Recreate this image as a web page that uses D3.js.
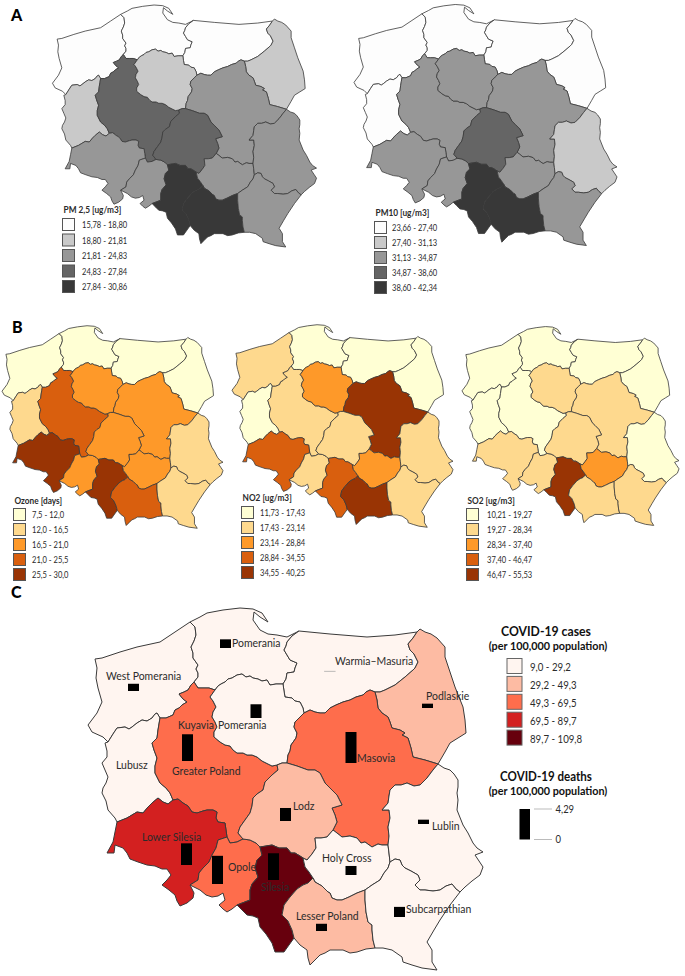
<!DOCTYPE html>
<html lang="en">
<head>
  <meta charset="UTF-8">
  <title>Air pollution and COVID-19 in Polish voivodeships</title>
  <script src="https://d3js.org/d3.v7.min.js"></script>
  <style>
    html, body { margin: 0; padding: 0; background: #fff; }
    svg { display: block; }
    text { font-family: Lato, "Open Sans", sans-serif; fill: #2b2b2b; }
  </style>
</head>
<body>
  <svg id="chart" width="685" height="976"></svg>

  <script>
    // Voivodeships, same order in every class list below
    const regions = ["West Pomerania", "Pomerania", "Warmia-Masuria", "Podlaskie", "Lubusz", "Greater Poland",
      "Kuyavia-Pomerania", "Masovia", "Lower Silesia", "Opole", "Lodz", "Silesia", "Holy Cross", "Lesser Poland",
      "Lublin", "Subcarpathian"];

    // Class (0-4) of each voivodeship on each map
    const pm25Class  = [0, 0, 0, 1, 1, 3, 1, 2, 2, 2, 3, 4, 2, 4, 2, 2];
    const pm10Class  = [0, 0, 0, 0, 0, 2, 2, 2, 2, 2, 3, 4, 2, 4, 1, 2];
    const ozoneClass = [0, 0, 0, 0, 1, 3, 2, 2, 4, 2, 2, 4, 2, 3, 1, 1];
    const no2Class   = [1, 0, 0, 0, 0, 1, 2, 4, 3, 1, 1, 3, 2, 4, 1, 1];
    const so2Class   = [0, 0, 0, 0, 0, 0, 1, 1, 1, 1, 1, 4, 2, 1, 0, 1];
    const casesClass = [0, 0, 0, 1, 0, 2, 0, 2, 3, 2, 1, 4, 0, 1, 0, 0];

    // COVID-19 deaths per 100,000
    const deaths = [1.0, 1.2, 0.05, 0.6, 0, 3.7, 1.9, 4.29, 3.0, 3.9, 1.8, 3.7, 1.25, 1.0, 0.6, 1.4];

    const pm25Labels  = ["15,78 - 18,80", "18,80 - 21,81", "21,81 - 24,83", "24,83 - 27,84", "27,84 - 30,86"];
    const pm10Labels  = ["23,66 - 27,40", "27,40 - 31,13", "31,13 - 34,87", "34,87 - 38,60", "38,60 - 42,34"];
    const ozoneLabels = ["7,5 - 12,0", "12,0 - 16,5", "16,5 - 21,0", "21,0 - 25,5", "25,5 - 30,0"];
    const no2Labels   = ["11,73 - 17,43", "17,43 - 23,14", "23,14 - 28,84", "28,84 - 34,55", "34,55 - 40,25"];
    const so2Labels   = ["10,21 - 19,27", "19,27 - 28,34", "28,34 - 37,40", "37,40 - 46,47", "46,47 - 55,53"];
    const casesLabels = ["9,0 - 29,2", "29,2 - 49,3", "49,3 - 69,5", "69,5 - 89,7", "89,7 - 109,8"];

    const greys   = ["#fdfdfd", "#c9c9c9", "#979797", "#656565", "#383838"];
    const oranges = ["#ffffd4", "#fed98e", "#fe9929", "#d95f0e", "#993404"];
    const reds    = ["#fff5f0", "#fdbba3", "#fe6d4c", "#d32020", "#67000d"];

    // Shared borders, in map units. Every voivodeship ring is stitched from these
    const arcs = {
      wpCoast: [[190,622],[175,632],[160,642],[137,647],[120,652],[102,658],[95,659],[97,668],[96,678],[98,688],[102,702],[97,713],[88,725],[92,732],[103,737],[108,742]],
      wpLub: [[108,742],[113,734],[117,728],[125,727],[129,729],[132,727],[137,723],[142,720],[147,721],[152,718],[155,714],[157,713],[160,718]],
      wpGp: [[160,718],[166,718],[173,715],[175,710],[179,708],[182,705],[187,702],[183,699],[179,694],[184,692],[188,690],[191,685],[194,682]],
      wpPom: [[194,682],[198,677],[198,673],[196,669],[198,665],[193,658],[193,653],[191,647],[194,641],[196,635],[195,627],[190,622]],
      pomCoast: [[190,622],[200,617],[207,613],[223,610],[240,608],[253,609],[262,613],[268,622],[260,617],[254,612],[253,620],[260,630],[268,634],[277,635],[287,637],[299,631]],
      pomWm: [[299,631],[292,636],[287,642],[286,646],[284,650],[287,655],[290,660],[297,663],[295,668],[294,672],[287,673],[286,679],[283,684]],
      pomKuy: [[283,684],[276,684],[270,685],[267,680],[262,681],[258,679],[253,678],[250,676],[246,677],[242,674],[237,675],[232,678],[228,679],[225,682],[221,684],[218,686],[215,690]],
      pomGp: [[215,690],[209,688],[203,688],[198,688],[196,685],[194,682]],
      kuyGp: [[215,690],[210,697],[213,701],[216,707],[213,712],[212,717],[215,722],[217,727],[214,732],[214,737],[220,742],[225,745],[230,746],[233,750],[237,753],[243,753],[247,755],[252,755],[257,757],[262,761],[268,764],[272,766],[277,765]],
      kuyWm: [[283,684],[284,691],[285,697],[292,698],[295,701],[300,702],[303,708],[304,713]],
      kuyMas: [[304,713],[300,717],[295,722],[294,727],[297,733],[296,738],[291,745],[290,751],[288,755],[287,763]],
      kuyLodz: [[287,763],[282,763],[277,765]],
      wmCoast: [[299,631],[330,634],[367,637],[395,635],[417,632]],
      wmPod: [[417,632],[413,638],[408,644],[410,650],[414,654],[418,662],[415,668],[413,670],[405,677],[395,685],[385,690],[380,692],[375,692]],
      wmMas: [[375,692],[370,690],[366,692],[363,695],[356,697],[350,700],[343,702],[336,705],[330,708],[325,713],[320,713],[315,712],[310,710],[304,713]],
      podBorder: [[417,632],[420,629],[425,632],[431,634],[437,638],[445,647],[445,657],[450,672],[455,687],[463,707],[465,720],[466,733],[458,738],[450,743],[445,752],[438,764]],
      podMas: [[438,764],[425,760],[413,757],[411,748],[408,738],[402,735],[405,733],[400,730],[392,728],[390,722],[388,717],[382,713],[378,708],[377,700],[375,692]],
      lubWest: [[108,742],[105,743],[107,751],[107,757],[102,763],[105,770],[108,777],[106,783],[103,788],[102,793],[106,801],[108,810],[115,818],[117,822]],
      lubGp: [[160,718],[159,724],[158,730],[157,738],[152,743],[154,750],[157,758],[155,766],[155,773],[160,783],[166,788],[170,793],[173,800]],
      lubLs: [[173,800],[168,804],[163,802],[158,798],[152,803],[148,807],[143,813],[137,812],[132,815],[127,818],[117,822]],
      gpLs: [[173,800],[178,799],[183,803],[188,806],[192,812],[197,813],[203,811],[207,810],[213,810],[217,812],[216,818],[218,822],[225,823],[226,830],[227,837]],
      gpOp: [[227,837],[230,843],[237,842],[243,839]],
      gpLodz: [[277,765],[278,770],[272,775],[265,782],[263,790],[257,794],[253,798],[252,806],[250,813],[245,820],[240,827],[238,833],[243,839]],
      masLodz: [[287,763],[297,766],[308,770],[315,770],[320,773],[325,783],[330,788],[337,795],[342,805],[332,808],[335,815],[337,822],[333,830]],
      masHc: [[333,830],[337,833],[342,837],[350,836],[357,838],[361,843],[365,842],[372,847],[378,844],[382,845],[388,845]],
      masLub: [[388,845],[389,836],[388,827],[390,818],[389,810],[382,810],[388,803],[389,796],[390,790],[395,785],[401,785],[407,783],[414,786],[420,785],[427,778],[433,770],[438,764]],
      lsBorder: [[117,822],[115,832],[113,842],[107,853],[114,853],[115,845],[123,848],[127,853],[130,859],[138,862],[147,865],[155,866],[162,869],[167,869],[171,875],[167,880],[162,885],[169,890],[175,895],[177,901],[180,906],[187,903],[193,898],[194,893],[190,885]],
      lsOp: [[227,837],[218,840],[216,848],[212,855],[209,862],[203,868],[199,873],[198,880],[190,885]],
      opBorder: [[190,885],[200,890],[206,895],[212,897],[218,896],[223,893],[225,900],[219,905],[223,909],[227,912],[232,909],[237,905]],
      opLodz: [[243,839],[250,840],[256,843],[260,847]],
      opSil: [[260,847],[262,855],[257,860],[255,868],[258,877],[252,884],[250,890],[250,900],[237,905]],
      silLodz: [[260,847],[266,846],[272,845],[279,848],[287,848],[291,853],[295,853],[300,856],[303,858]],
      silHc: [[303,858],[305,867],[309,872],[313,878]],
      silLp: [[313,878],[308,883],[303,885],[297,889],[290,897],[284,905],[282,915],[288,921],[292,930],[294,938]],
      silBorder: [[237,905],[242,910],[247,915],[253,916],[258,918],[260,927],[266,934],[272,943],[275,952],[284,952],[294,938]],
      lodzHc: [[303,858],[307,860],[312,854],[316,848],[315,838],[321,838],[327,837],[333,830]],
      hcLub: [[388,845],[389,853],[390,862]],
      hcSub: [[390,862],[388,868],[384,873],[380,880],[372,885],[365,890]],
      hcLp: [[365,890],[357,893],[349,897],[342,900],[337,900],[332,898],[330,893],[328,892],[322,886],[315,882],[313,878]],
      lpSub: [[365,890],[365,900],[366,912],[368,922],[372,925],[372,930],[373,940],[375,948]],
      lpBorder: [[294,938],[300,945],[307,950],[308,958],[310,965],[315,960],[320,955],[325,953],[330,950],[343,950],[350,953],[357,952],[366,949],[375,948]],
      lubSub: [[390,862],[395,859],[400,860],[402,865],[405,868],[411,871],[418,875],[420,880],[415,885],[420,890],[425,890],[433,891],[440,890],[446,886],[452,884],[456,889],[460,892]],
      lubEast: [[460,892],[465,887],[472,881],[480,875],[483,867],[479,861],[475,855],[483,852],[477,848],[473,843],[468,833],[463,825],[457,810],[458,800],[457,793],[458,787],[458,780],[454,774],[450,770],[444,768],[438,764]],
      subBorder: [[375,948],[383,948],[392,950],[402,957],[403,962],[412,965],[422,968],[437,970],[432,962],[432,950],[427,942],[434,930],[440,920],[450,905],[460,892]]
    };

    // "-" means the arc runs backwards in this ring
    const rings = [
      ["wpCoast", "wpLub", "wpGp", "wpPom"],
      ["pomCoast", "pomWm", "pomKuy", "pomGp", "wpPom"],
      ["wmCoast", "wmPod", "wmMas", "-kuyWm", "-pomWm"],
      ["podBorder", "podMas", "-wmPod"],
      ["lubWest", "-lubLs", "-lubGp", "-wpLub"],
      ["wpGp", "-pomGp", "kuyGp", "gpLodz", "-gpOp", "-gpLs", "-lubGp"],
      ["-pomKuy", "kuyWm", "kuyMas", "kuyLodz", "-kuyGp"],
      ["-wmMas", "-podMas", "-masLub", "-masHc", "-masLodz", "-kuyMas"],
      ["lsBorder", "-lsOp", "-gpLs", "lubLs"],
      ["lsOp", "opBorder", "-opSil", "-opLodz", "-gpOp"],
      ["-kuyLodz", "masLodz", "-lodzHc", "-silLodz", "-opLodz", "-gpLodz"],
      ["opSil", "silBorder", "-silLp", "-silHc", "-silLodz"],
      ["lodzHc", "masHc", "hcLub", "hcSub", "hcLp", "-silHc"],
      ["silLp", "lpBorder", "-lpSub", "hcLp"],
      ["-masLub", "hcLub", "lubSub", "lubEast"],
      ["lubSub", "-subBorder", "-lpSub", "-hcSub"]
    ];

    const features = rings.map((ring, i) => {
      const coords = [];
      ring.forEach(name => {
        const back = name[0] === "-";
        const pts = arcs[back ? name.slice(1) : name];
        (back ? pts.slice().reverse() : pts).forEach(p => coords.push(p));
      });
      return { type: "Feature", properties: { name: regions[i] }, geometry: { type: "Polygon", coordinates: [coords] } };
    });
    const country = { type: "FeatureCollection", features };

    const svg = d3.select("#chart");

    // Lato is wider than the face in the picture, so squeeze it a little
    function squeeze(sel, k) {
      sel.each(function () {
        this.setAttribute("textLength", this.getComputedTextLength() * k);
        this.setAttribute("lengthAdjust", "spacingAndGlyphs");
      });
      return sel;
    }

    function drawMap(classes, colors, box, strokeWidth) {
      const projection = d3.geoIdentity().fitExtent(box, country);
      const path = d3.geoPath(projection);
      const fill = d3.scaleOrdinal(d3.range(5), colors);
      svg.append("g")
        .selectAll("path")
        .data(features)
        .enter().append("path")
        .attr("d", path)
        .attr("fill", (d, i) => fill(classes[i]))
        .attr("stroke", "#3a3a3a")
        .attr("stroke-width", strokeWidth)
        .attr("stroke-linejoin", "miter")
        .attr("stroke-miterlimit", 2);
      return projection;
    }

    function drawLegend(title, labels, colors, x, y, step, textX, titleY) {
      svg.append("text").attr("x", x + 1).attr("y", titleY).attr("dy", "0.35em")
        .style("font-size", "9px").style("font-weight", 700).text(title)
        .call(squeeze, 0.92);
      labels.forEach((label, i) => {
        svg.append("rect").attr("x", x).attr("y", y + i * step).attr("width", 12).attr("height", 12)
          .attr("fill", colors[i]).attr("stroke", "#555").attr("stroke-width", 1);
        svg.append("text").attr("x", textX).attr("y", y + 6.5 + i * step).attr("dy", "0.35em")
          .style("font-size", "9px").text(label)
          .call(squeeze, 0.84);
      });
    }

    function panelLetter(letter, x, y) {
      svg.append("text").attr("x", x).attr("y", y).style("font-size", "16px").style("font-weight", 900)
        .style("fill", "#000").text(letter);
    }

    // Panel A
    panelLetter("A", 11, 21);
    drawMap(pm25Class, greys, [[52, 5], [317, 247]], 0.8);
    drawMap(pm10Class, greys, [[354, 3], [617, 247]], 0.8);
    drawLegend("PM 2,5 [ug/m3]", pm25Labels, greys, 62.5, 218.5, 15.5, 82, 210);
    drawLegend("PM10 [ug/m3]", pm10Labels, greys, 374.5, 221.5, 15, 392, 213);

    // Panel B
    panelLetter("B", 12, 333);
    drawMap(ozoneClass, oranges, [[2, 324], [223, 530]], 0.8);
    drawMap(no2Class, oranges, [[232, 323], [453, 529]], 0.8);
    drawMap(so2Class, oranges, [[462, 323], [679, 529]], 0.8);
    drawLegend("Ozone [days]", ozoneLabels, oranges, 13.5, 508.5, 15, 32, 501);
    drawLegend("NO2 [ug/m3]", no2Labels, oranges, 241.5, 506.5, 15, 260, 498);
    drawLegend("SO2 [ug/m3]", so2Labels, oranges, 466.5, 508.5, 15, 487, 501);

    // Panel C
    panelLetter("C", 11, 598);
    const mapC = drawMap(casesClass, reds, [[88, 608], [483, 970]], 1);

    // Where each bar stands, in map units
    const barSites = [[133.5,691],[225.5,648],[330,671.5],[427.5,708],[132,765],[187.5,761],[256,718],[351,763],
      [186.5,865],[217.5,884],[285.5,821],[273.5,880],[351,875],[321.5,931],[423.5,824],[399.5,917]];
    const deathHeight = d3.scaleLinear().domain([0, 4.29]).range([0, 31]);

    svg.append("g")
      .selectAll("rect")
      .data(deaths)
      .enter().append("rect")
      .attr("x", (d, i) => mapC(barSites[i])[0] - 5.5)
      .attr("y", (d, i) => mapC(barSites[i])[1] - deathHeight(d))
      .attr("width", d => d > 0 ? 11 : 0)
      .attr("height", d => deathHeight(d))
      .attr("fill", d => d < 0.1 ? "#aaa" : "#000")
      .attr("stroke", d => d < 0.1 ? "#aaa" : "none")
      .attr("stroke-width", 0.5);

    // Region names on panel C
    const nameTexts = ["West Pomerania", "Pomerania", "Warmia\u2013Masuria", "Podlaskie", "Lubusz", "Greater Poland",
      "Kuyavia", "Pomerania", "Masovia", "Lower Silesia", "Opole", "Lodz", "Silesia", "Holy Cross", "Lesser Poland",
      "Lublin", "Subcarpathian"];
    const nameSites = [[106,676],[232,643],[335,661],[426,696],[116,765],[172,771],[178,725],[218,725],[357,758],
      [142,837],[228,867],[293,806],[261,887],[322,858],[296,916],[432,826],[406,909]];

    svg.append("g")
      .selectAll("text")
      .data(nameTexts)
      .enter().append("text")
      .attr("x", (d, i) => mapC(nameSites[i])[0])
      .attr("y", (d, i) => mapC(nameSites[i])[1])
      .attr("dy", "0.35em")
      .style("font-size", "11px")
      .text(d => d)
      .call(squeeze, 0.95);

    // Panel C legends
    function legendTitle(line1, line2, y, k) {
      svg.append("text").attr("x", 546).attr("y", y).attr("dy", "0.35em").attr("text-anchor", "middle")
        .style("font-size", "13px").style("font-weight", 700).style("fill", "#111").text(line1)
        .call(squeeze, k);
      svg.append("text").attr("x", 548).attr("y", y + 15).attr("dy", "0.35em").attr("text-anchor", "middle")
        .style("font-size", "10.8px").style("font-weight", 700).style("fill", "#111").text(line2);
    }

    legendTitle("COVID-19 cases", "(per 100,000 population)", 631, 0.94);
    legendTitle("COVID-19 deaths", "(per 100,000 population)", 776, 0.89);

    casesLabels.forEach((label, i) => {
      svg.append("rect").attr("x", 507).attr("y", 658.5 + i * 17.9).attr("width", 15).attr("height", 15)
        .attr("fill", reds[i]).attr("stroke", "#666").attr("stroke-width", 1);
      svg.append("text").attr("x", 530).attr("y", 667.5 + i * 17.9).attr("dy", "0.35em")
        .style("font-size", "10.5px").text(label)
        .call(squeeze, 0.92);
    });

    const deathLegend = d3.scaleLinear().domain([0, 4.29]).range([839.5, 809]);
    svg.append("rect").attr("x", 519.5).attr("y", deathLegend(4.29)).attr("width", 10.5)
      .attr("height", deathLegend(0) - deathLegend(4.29)).attr("fill", "#000");
    [4.29, 0].forEach(v => {
      svg.append("line").attr("x1", 534).attr("x2", 552).attr("y1", deathLegend(v)).attr("y2", deathLegend(v))
        .attr("stroke", "#bbb").attr("stroke-width", 1);
      svg.append("text").attr("x", 555.5).attr("y", deathLegend(v)).attr("dy", "0.35em")
        .style("font-size", "10.5px").text(String(v).replace(".", ","))
        .call(squeeze, 0.9);
    });
  </script>
</body>
</html>
